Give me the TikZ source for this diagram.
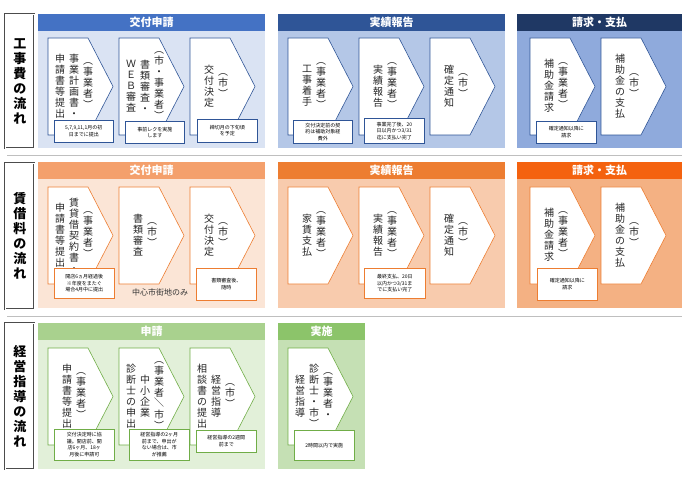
\documentclass[tikz,border=0pt]{standalone}
\usepackage{fontspec}
\setmainfont{Noto Sans CJK JP}
\usetikzlibrary{calc}
\definecolor{bA}{HTML}{4472C4}\definecolor{bAb}{HTML}{DAE3F3}
\definecolor{bB}{HTML}{2F5597}\definecolor{bBb}{HTML}{B4C7E7}
\definecolor{bC}{HTML}{1F3864}\definecolor{bCb}{HTML}{8FAADC}
\definecolor{oA}{HTML}{F4A06C}\definecolor{oAb}{HTML}{FBE5D6}
\definecolor{oB}{HTML}{ED7D31}\definecolor{oBb}{HTML}{F8CBAD}
\definecolor{oC}{HTML}{F4620F}\definecolor{oCb}{HTML}{F4B183}
\definecolor{gA}{HTML}{A9D18E}\definecolor{gAb}{HTML}{E2F0D9}
\definecolor{gB}{HTML}{8CC46A}\definecolor{gBb}{HTML}{C5E0B4}
\definecolor{gE}{HTML}{70AD47}
\newcommand\vsl{\rotatebox{90}{／}}
\def\vcolx#1{\ifx\relax#1\else\hbox to 11pt{\hss#1\hss}\expandafter\vcolx\fi}
\newcommand\vcol[1]{$\vcenter{\baselineskip=11pt\lineskiplimit=-20pt\vcolx#1\relax}$}
\newcommand\vtwo[2]{\hbox{\vcol{#2}\kern3pt\vcol{#1}}}
\newcommand\vthree[3]{\hbox{\vcol{#3}\kern3pt\vcol{#2}\kern3pt\vcol{#1}}}
\def\vbigx#1{\ifx\relax#1\else\hbox to 16pt{\hss#1\hss}\expandafter\vbigx\fi}
\newcommand\vbig[1]{\vbox{\baselineskip=15pt\lineskiplimit=-20pt\vbigx#1\relax}}
\tikzset{
 hdr/.style={text=white,font=\bfseries\fontsize{11}{12}\selectfont,inner sep=0pt},
 vtx/.style={font=\fontsize{10}{10}\selectfont,inner sep=0pt,text=black!85},
 notebox/.style={draw=#1,fill=white,line width=0.6pt,anchor=north west,inner sep=1pt,align=center,font=\fontsize{5}{6.5}\selectfont},
 lbl/.style={draw=black!70,double=white,double distance=0.8pt,line width=0.9pt,fill=white},
}
\newcommand\sect[8]{%
 \fill[#7] (#2,#4) rectangle (#3,#5);
 \fill[#6] (#2,#4) rectangle (#3,{#4+17});
 \node[hdr] (#1) at ({(#2+#3)/2},{#4+8.5}) {#8};}
\newcommand\chev[5]{%
 \draw[draw=#4,fill=white,line width=0.6pt] (#2,#3) -- ++(40,0) -- ++(25,48.5) -- ++(-25,48.5) -- ++(-40,0) -- cycle;
 \node[vtx] (#1) at ({#2+26},{#3+48}) {#5};}
\newcommand\note[6]{\node[notebox=#5,minimum width=#3,minimum height=#4,text width={#3-2}] (#6) at (#1,#2) {};}
\begin{document}
\begin{tikzpicture}[x=1pt,y=-1pt]
\useasboundingbox (0,0) rectangle (690,478);
% separators
\draw[black!25,line width=0.8pt] (7,155) -- (682,155);
\draw[black!25,line width=0.8pt] (7,316) -- (682,316);
% labels
\draw[lbl] (5,14) rectangle (34,148);
\node[font=\bfseries\fontsize{13}{14}\selectfont,inner sep=0pt] (L1) at (20,81) {\vbig{工事費の流れ}};
\draw[lbl] (5,163) rectangle (34,309);
\node[font=\bfseries\fontsize{13}{14}\selectfont,inner sep=0pt] (L2) at (20,236) {\vbig{賃借料の流れ}};
\draw[lbl] (5,323) rectangle (34,469);
\node[font=\bfseries\fontsize{13}{14}\selectfont,inner sep=0pt] (L3) at (20,396) {\vbig{経営指導の流れ}};
% ===== row 1
\sect{h11}{38}{265}{14}{148}{bA}{bAb}{交付申請}
\sect{h12}{278}{505}{14}{148}{bB}{bBb}{実績報告}
\sect{h13}{517}{682}{14}{148}{bC}{bCb}{請求・支払}
\chev{c11}{48}{38}{bB}{\vthree{︵事業者︶}{事業計画書・}{申請書等提出}}
\chev{c12}{119}{38}{bB}{\vthree{︵市・事業者︶}{書類審査・}{ＷＥＢ審査}}
\chev{c13}{190}{38}{bB}{\vtwo{︵市︶}{交付決定}}
\chev{c14}{288}{38}{bB}{\vtwo{︵事業者︶}{工事着手}}
\chev{c15}{359}{38}{bB}{\vtwo{︵事業者︶}{実績報告}}
\chev{c16}{430}{38}{bB}{\vtwo{︵市︶}{確定通知}}
\chev{c17}{530}{38}{bB}{\vtwo{︵事業者︶}{補助金請求}}
\chev{c18}{601}{38}{bB}{\vtwo{︵市︶}{補助金の支払}}
\node[notebox=bB,minimum width=59pt,minimum height=22pt,text width=57pt] (n11) at (54,120) {5,7,9,11,1月の初\\日までに提出};
\node[notebox=bB,minimum width=59pt,minimum height=22pt,text width=57pt] (n12) at (125,121) {事前レクを実施\\します};
\node[notebox=bB,minimum width=60pt,minimum height=23pt,text width=58pt] (n13) at (197,119) {締切月の下旬頃\\を予定};
\node[notebox=bB,minimum width=59pt,minimum height=23pt,text width=57pt] (n14) at (293,120) {交付決定前の契\\約は補助対象経\\費外};
\node[notebox=bB,minimum width=60pt,minimum height=25pt,text width=58pt] (n15) at (364,118) {事業完了後、20\\日以内かつ3/31\\迄に支払い完了};
\node[notebox=bB,minimum width=60pt,minimum height=22pt,text width=58pt] (n16) at (536,121) {確定通知以降に\\請求};
% ===== row 2
\sect{h21}{38}{265}{162}{308}{oA}{oAb}{交付申請}
\sect{h22}{278}{505}{162}{308}{oB}{oBb}{実績報告}
\sect{h23}{517}{682}{162}{308}{oC}{oCb}{請求・支払}
\chev{c21}{48}{187}{oB}{\vthree{︵事業者︶}{賃貸借契約書・}{申請書等提出}}
\chev{c22}{119}{187}{oB}{\vtwo{︵市︶}{書類審査}}
\chev{c23}{190}{187}{oB}{\vtwo{︵市︶}{交付決定}}
\chev{c24}{288}{187}{oB}{\vtwo{︵事業者︶}{家賃支払}}
\chev{c25}{359}{187}{oB}{\vtwo{︵事業者︶}{実績報告}}
\chev{c26}{430}{187}{oB}{\vtwo{︵市︶}{確定通知}}
\chev{c27}{530}{187}{oB}{\vtwo{︵事業者︶}{補助金請求}}
\chev{c28}{601}{187}{oB}{\vtwo{︵市︶}{補助金の支払}}
\node[notebox=oB,minimum width=60pt,minimum height=30pt,text width=58pt] (n21) at (54,268) {開店6ヵ月経過後\\※年度をまたぐ\\場合4月中に提出};
\node[notebox=oB,minimum width=60pt,minimum height=32pt,text width=58pt] (n22) at (196,268) {書類審査後、\\随時};
\node[notebox=oB,minimum width=61pt,minimum height=30pt,text width=59pt] (n23) at (364,268) {最終支払、20日\\以内かつ3/31ま\\でに支払い完了};
\node[notebox=oB,minimum width=60pt,minimum height=32pt,text width=58pt] (n24) at (537,268) {確定通知以降に\\請求};
\node[font=\fontsize{8}{9}\selectfont,text=black!80] (t21) at (160,292) {中心市街地のみ};
% ===== row 3
\sect{h31}{38}{265}{323}{469}{gA}{gAb}{申請}
\sect{h32}{278}{365}{323}{469}{gB}{gBb}{実施}
\chev{c31}{48}{348}{gE}{\vtwo{︵事業者︶}{申請書等提出}}
\chev{c32}{119}{348}{gE}{\vthree{︵事業者\vsl 市︶}{中小企業}{診断士の申出}}
\chev{c33}{190}{348}{gE}{\vthree{︵市︶}{経営指導}{相談書の提出}}
\chev{c34}{288}{348}{gE}{\vthree{︵事業者・}{診断士・市︶}{経営指導}}
\node[notebox=gE,minimum width=60pt,minimum height=31pt,text width=58pt] (n31) at (54,429) {交付決定時に協\\議。開店前、開\\店6ヶ月、18ヶ\\月後に申請可};
\node[notebox=gE,minimum width=60pt,minimum height=31pt,text width=58pt] (n32) at (129,429) {経営指導の2ヶ月\\前まで、申出が\\ない場合は、市\\が推薦};
\node[notebox=gE,minimum width=60pt,minimum height=22pt,text width=58pt] (n33) at (196,430) {経営指導の2週間\\前まで};
\node[notebox=gE,minimum width=60pt,minimum height=30pt,text width=58pt] (n34) at (294,430) {2時間以内で実施};
\end{tikzpicture}
\end{document}
